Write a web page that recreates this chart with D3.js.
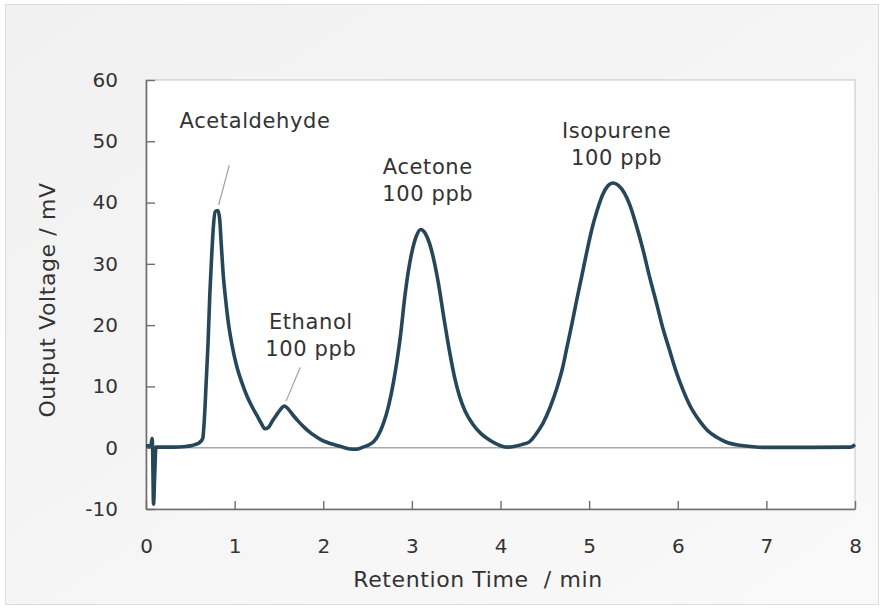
<!DOCTYPE html>
<meta charset="utf-8">
<script src="https://d3js.org/d3.v7.min.js"></script>
<style>
  body { margin: 0; background: #fff; }
  text { font-family: "DejaVu Sans", Verdana, sans-serif; fill: #333; }
</style>
<div id="my_dataviz"></div>
<script>

// chromatogram: retention time (min) and output voltage (mV)
var time = [0, 0.055, 0.068, 0.074, 0.085, 0.098, 0.112, 0.2, 0.3, 0.45, 0.5, 0.55, 0.6, 0.64,
  0.66, 0.68, 0.70, 0.72, 0.74, 0.76, 0.78, 0.81, 0.83, 0.85, 0.87, 0.90, 0.93, 0.97,
  1.02, 1.08, 1.14, 1.2, 1.25, 1.3, 1.34, 1.38, 1.42, 1.47, 1.52, 1.56, 1.6, 1.66, 1.72,
  1.78, 1.85, 1.92, 2.0, 2.1, 2.2, 2.3, 2.37, 2.45, 2.52, 2.57, 2.62, 2.68, 2.74, 2.79,
  2.83, 2.87, 2.92, 2.96, 3.0, 3.05, 3.10, 3.15, 3.2, 3.25, 3.3, 3.36, 3.43, 3.48, 3.54, 3.6,
  3.69, 3.78, 3.88, 3.97, 4.07, 4.15, 4.24, 4.33, 4.4, 4.48, 4.56, 4.64, 4.70, 4.75, 4.80,
  4.86, 4.92, 4.97, 5.03, 5.09, 5.15, 5.21, 5.27, 5.33, 5.40, 5.46, 5.53, 5.61, 5.68, 5.76,
  5.83, 5.91, 5.98, 6.06, 6.14, 6.25, 6.33, 6.44, 6.55, 6.7, 6.85, 7.0, 7.5, 7.95, 8.0];
var voltage = [0.3, 0.3, 1.5, 0.3, -9.2, -4.5, 0.1, 0.1, 0.1, 0.2, 0.3, 0.5, 0.8, 1.5,
  5, 11, 17, 25, 31, 36, 38.5, 38.7, 37.5, 33, 28.5, 24, 20.3, 16.8,
  13.5, 10.7, 8.4, 6.6, 5.3, 4.0, 3.1, 3.3, 4.2, 5.3, 6.3, 6.8, 6.4, 5.3, 4.3,
  3.4, 2.5, 1.8, 1.1, 0.6, 0.2, -0.2, -0.25, 0.1, 0.5, 1.0, 2.0, 4.0, 7.0, 10.5,
  14.0, 18.1, 24.6, 28.8, 31.9, 34.5, 35.6, 35.0, 33.3, 30.5, 26.8, 21.3, 15.3, 11.6, 8.3, 6.0,
  3.8, 2.3, 1.2, 0.5, 0.1, 0.2, 0.5, 1.0, 2.2, 4.0, 6.6, 9.9, 13.0, 16.4, 19.8,
  24.1, 28.2, 31.7, 35.6, 38.7, 41.2, 42.7, 43.2, 42.8, 41.5, 39.6, 36.4, 32.2, 28.0, 23.6,
  19.6, 15.8, 12.5, 9.4, 6.8, 4.3, 2.9, 1.7, 0.9, 0.4, 0.15, 0.05, 0.05, 0.1, 0.5];

var xTicks = [0, 1, 2, 3, 4, 5, 6, 7, 8];
var yTicks = [-10, 0, 10, 20, 30, 40, 50, 60];

// peak labels
var peakNames = ["Acetaldehyde", "Ethanol", "Acetone", "Isopurene"];
var peakConc = ["", "100 ppb", "100 ppb", "100 ppb"];

var margin = {top: 80, right: 28, bottom: 100, left: 146},
    width = 883 - margin.left - margin.right,
    height = 609 - margin.top - margin.bottom;

var svg = d3.select("#my_dataviz")
  .append("svg")
    .attr("width", 883)
    .attr("height", 609);

// grey panel behind the chart
var grad = svg.append("defs").append("linearGradient")
    .attr("id", "bg")
    .attr("x1", "0%").attr("y1", "0%").attr("x2", "100%").attr("y2", "100%");
grad.append("stop").attr("offset", "0%").attr("stop-color", "#f1f1f1");
grad.append("stop").attr("offset", "100%").attr("stop-color", "#f9f9f9");

svg.append("rect")
    .attr("x", 5.5).attr("y", 4.5)
    .attr("width", 873).attr("height", 600)
    .attr("fill", "url(#bg)")
    .attr("stroke", "#dcdcdc");

var g = svg.append("g")
    .attr("transform", "translate(" + margin.left + "," + margin.top + ")");

var x = d3.scaleLinear()
  .domain([0, 8])
  .range([0, width]);

var y = d3.scaleLinear()
  .domain([-10, 60])
  .range([height, 0]);

// plot area
g.append("rect")
    .attr("width", width)
    .attr("height", height)
    .attr("fill", "#fff")
    .attr("stroke", "#c4c4c4");

// zero line
g.append("line")
    .attr("x1", 0).attr("x2", width)
    .attr("y1", y(0)).attr("y2", y(0))
    .attr("stroke", "#a9a9a9")
    .attr("stroke-width", 1.5);

// axes with ticks pointing inwards, plain hyphen for negatives
var fmt = function(d) { return String(d); };
var xAxis = g.append("g")
    .attr("transform", "translate(0," + height + ")")
    .call(d3.axisBottom(x).tickValues(xTicks).tickFormat(fmt).tickSizeInner(-8).tickSizeOuter(0).tickPadding(30));
var yAxis = g.append("g")
    .call(d3.axisLeft(y).tickValues(yTicks).tickFormat(fmt).tickSizeInner(-9).tickSizeOuter(0).tickPadding(28));

[xAxis, yAxis].forEach(function(a) {
  a.select(".domain").attr("stroke", "#6e6e6e").attr("stroke-width", 1.6);
  a.selectAll(".tick line").attr("stroke", "#6e6e6e").attr("stroke-width", 1.4);
  a.selectAll(".tick text")
    .style("font-family", "DejaVu Sans, sans-serif")
    .style("font-size", "20px")
    .attr("fill", "#333");
});

// the trace
var data = time.map(function(t, i) { return {t: t, v: voltage[i]}; });
var line = d3.line()
    .x(function(d) { return x(d.t); })
    .y(function(d) { return y(d.v); })
    .curve(d3.curveMonotoneX);

g.append("path")
    .datum(data)
    .attr("fill", "none")
    .attr("stroke", "#26465a")
    .attr("stroke-width", 3.6)
    .attr("stroke-linejoin", "round")
    .attr("d", line);

// peak annotations: label position and leader line ends, in data units
var labelT = [1.23, 1.86, 3.18, 5.31];
var labelV = [52.2, 19.4, 44.7, 50.6];
var leaderFrom = [[0.94, 46.1], [1.74, 13.1], null, null];
var leaderTo = [[0.82, 39.6], [1.58, 7.6], null, null];

peakNames.forEach(function(name, i) {
  if (leaderFrom[i]) {
    g.append("line")
      .attr("x1", x(leaderFrom[i][0])).attr("y1", y(leaderFrom[i][1]))
      .attr("x2", x(leaderTo[i][0])).attr("y2", y(leaderTo[i][1]))
      .attr("stroke", "#a0a0a0")
      .attr("stroke-width", 1.2);
  }
  var t = g.append("text")
    .attr("text-anchor", "middle")
    .attr("x", x(labelT[i]))
    .attr("y", y(labelV[i]))
    .style("font-size", "21px")
    .style("letter-spacing", "0.6px");
  t.append("tspan").text(name);
  if (peakConc[i]) {
    t.append("tspan")
      .attr("x", x(labelT[i]))
      .attr("dy", 27)
      .text(peakConc[i]);
  }
});

// axis titles
svg.append("text")
    .attr("text-anchor", "middle")
    .attr("x", 478)
    .attr("y", 587)
    .style("font-size", "22px")
    .style("letter-spacing", "0.6px")
    .style("white-space", "pre")
    .text("Retention Time  / min");

svg.append("text")
    .attr("text-anchor", "middle")
    .attr("transform", "translate(55,300) rotate(-90)")
    .style("font-size", "22px")
    .style("letter-spacing", "0.6px")
    .text("Output Voltage / mV");

</script>
